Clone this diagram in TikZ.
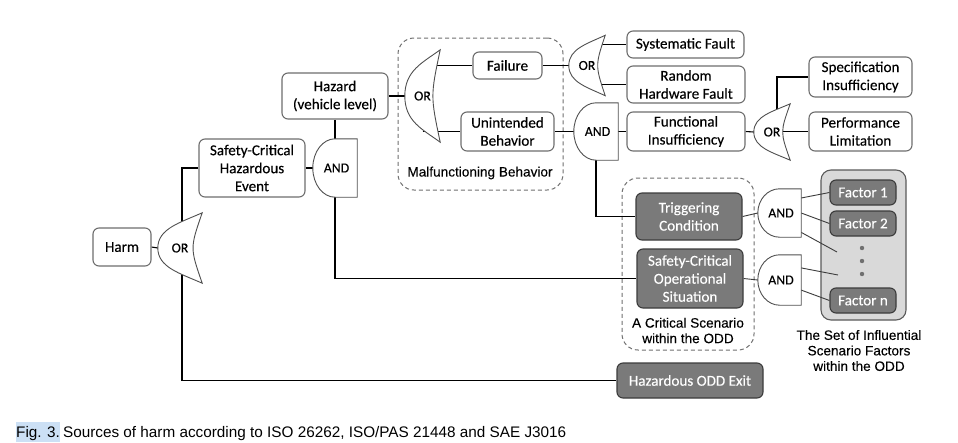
\documentclass[tikz,border=0pt]{standalone}
\usepackage{fontspec}
\setmainfont{Carlito}[FakeBold=0.25]
\newfontfamily\arialf{Liberation Sans}[FakeBold=0.15]
\newfontfamily\capf{Liberation Sans}
\usetikzlibrary{calc}
\pgfdeclarelayer{bg}
\pgfdeclarelayer{mid}
\pgfsetlayers{bg,mid,main}
\definecolor{bordergray}{HTML}{6E6E6E}
\definecolor{gateborder}{HTML}{505050}
\definecolor{darkfill}{HTML}{7A7A7A}
\definecolor{darkborder}{HTML}{3C3C3C}
\definecolor{setfill}{HTML}{D9D9D9}
\definecolor{setborder}{HTML}{5A5A5A}
\definecolor{grpgray}{HTML}{707070}
\definecolor{hl}{HTML}{CCE0F5}
\newcommand\boxfont{\fontsize{15.1}{18}\selectfont}
\newcommand\gatefont{\fontsize{13.8}{16}\selectfont}
\newcommand\lblfont{\arialf\fontsize{13.6}{15.5}\selectfont}
\newcommand\andshape[1]{%
  \draw[gateline] (#1.north east) -- (#1.north)
    .. controls ($(#1.north)!0.5523!(#1.north west)$) and ($(#1.west)!0.5523!(#1.north west)$) .. (#1.west)
    .. controls ($(#1.west)!0.5523!(#1.south west)$) and ($(#1.south)!0.5523!(#1.south west)$) .. (#1.south)
    -- (#1.south east) -- cycle;}
\newcommand\orshape[1]{%
  \draw[gateline] (#1.west)
    .. controls ($(#1.west)!0.55!(#1.north west)$) and ($(#1.north)!0.28!(#1.center)$) .. (#1.north east)
    .. controls ($(#1.east)!0.55!(#1.center)$) .. (#1.south east)
    .. controls ($(#1.south)!0.28!(#1.center)$) and ($(#1.west)!0.55!(#1.south west)$) .. (#1.west) -- cycle;}
\tikzset{
  sz/.style 2 args={minimum width=#1pt, minimum height=#2pt},
  wbox/.style={draw=bordergray, line width=1.1pt, rounded corners=6pt, fill=white,
    align=center, inner sep=0pt, font=\boxfont},
  dbox/.style={draw=darkborder, line width=1.1pt, rounded corners=6pt, fill=darkfill,
    text=white, align=center, inner sep=0pt, font=\boxfont},
  gatenode/.style={inner sep=0pt, font=\gatefont},
  gateline/.style={draw=gateborder, fill=white, line width=0.9pt},
  conn/.style={line width=1.1pt, draw=black},
  thinconn/.style={line width=0.9pt, draw=darkborder},
  grp/.style={draw=grpgray, dash pattern=on 4pt off 3pt, rounded corners=16pt, line width=1pt},
  lbl/.style={font=\lblfont, align=center, inner sep=0pt}
}
\begin{document}
\begin{tikzpicture}[x=1pt,y=-1pt]
\useasboundingbox (0,0) rectangle (958,442);
\begin{pgfonlayer}{bg}
  \fill[white] (0,0) rectangle (958,442);
  \node[grp, sz={165}{152}] (malfgrp) at (480.5,114) {};
  \node[grp, sz={132}{172}] (critgrp) at (688,264) {};
  \node[draw=setborder, fill=setfill, line width=1.1pt, rounded corners=10pt, sz={85}{150}] (set) at (863.5,245) {};
\end{pgfonlayer}

% boxes
\node[wbox, sz={58}{38}] (harm) at (122,247) {Harm};
\node[wbox, sz={106}{58}] (sche) at (252,168) {Safety-Critical\\Hazardous\\Event};
\node[wbox, sz={106}{46}] (haz) at (335,96) {Hazard\\(vehicle level)};
\node[wbox, sz={69}{27}] (fail) at (507.5,65.5) {Failure};
\node[wbox, sz={93}{39}] (unint) at (507.5,131.5) {Unintended\\Behavior};
\node[wbox, sz={117}{27}] (sysf) at (685.5,44.5) {Systematic Fault};
\node[wbox, sz={118}{37}] (rhf) at (686,84.5) {Random\\Hardware Fault};
\node[wbox, sz={118}{39}] (funci) at (686,131.5) {Functional\\Insufficiency};
\node[wbox, sz={103}{40}] (spec) at (860.5,77) {Specification\\Insufficiency};
\node[wbox, sz={103}{39}] (perf) at (860.5,131.5) {Performance\\Limitation};

\node[dbox, sz={106}{47}] (trig) at (689,216.5) {Triggering\\Condition};
\node[dbox, sz={106}{59}] (scos) at (690,278.5) {Safety-Critical\\Operational\\Situation};
\node[dbox, sz={146}{35}] (hodd) at (690,380.5) {Hazardous ODD Exit};
\node[dbox, sz={66}{25}] (f1) at (863,192.5) {Factor 1};
\node[dbox, sz={66}{25}] (f2) at (863,223.5) {Factor 2};
\node[dbox, sz={66}{25}] (fn) at (863,300.5) {Factor n};

% gates
\node[gatenode, sz={44}{70}] (or1) at (180,248) {OR};
\node[gatenode, sz={44}{58}] (and1) at (335,168) {\hspace{3pt}AND};
\node[gatenode, sz={35}{92}] (or2) at (422.5,96) {OR};
\node[gatenode, sz={36}{60}] (or3) at (587,65.5) {OR};
\node[gatenode, sz={44}{57}] (and2) at (596,131.5) {\hspace{3pt}AND};
\node[gatenode, sz={36}{56}] (or4) at (772,132) {OR};
\node[gatenode, sz={43}{48}] (and3) at (779.5,213) {\hspace{3pt}AND};
\node[gatenode, sz={43}{50}] (and4) at (779.5,280) {\hspace{3pt}AND};

\begin{pgfonlayer}{mid}
  \orshape{or1}
  \andshape{and1}
  \orshape{or2}
  \orshape{or3}
  \andshape{and2}
  \orshape{or4}
  \andshape{and3}
  \andshape{and4}
\end{pgfonlayer}

% dots and free ends
\fill[grpgray] (862,248) circle (2.2pt) (862,261) circle (2.2pt) (862,274) circle (2.2pt);
\coordinate (e1) at (837,252);
\coordinate (e2) at (838,275);

% labels
\node[lbl] (malflbl) at (480,173) {Malfunctioning Behavior};
\node[lbl] (critlbl) at (688,330.5) {A Critical Scenario\\within the ODD};
\node[lbl] (setlbl) at (859,350.5) {The Set of Influential\\Scenario Factors\\within the ODD};

% caption
\node[anchor=base west, inner sep=0pt, font=\capf\fontsize{15.3}{18}\selectfont] (cap) at (16,437)
  {\setlength{\fboxsep}{0pt}\colorbox{hl}{\rule[-4.5pt]{0pt}{19.5pt}Fig.\kern-0.3pt{} 3.}\kern-1pt{} Sources of harm according to ISO 26262, ISO/PAS 21448 and SAE J3016};

% connectors
\begin{pgfonlayer}{bg}
  \draw[conn] (harm.east) -- (or1.west);
  \draw[conn] ($(or1.center)+(2,0)$) |- (sche.west);
  \draw[conn] ($(or1.center)+(2,0)$) |- (hodd.west);
  \draw[conn] (sche.east) -- (and1.west);
  \draw[conn] (haz.south) -- (and1.north);
  \draw[conn] (and1.south) |- (scos.west);
  \draw[conn] (haz.east) -- (or2.west);
  \draw[conn] (or2.center |- fail.west) -- (fail.west);
  \draw[conn] (or2.center |- unint.west) -- (unint.west);
  \draw[conn] (fail.east) -- (or3.west);
  \draw[conn] (or3.center |- sysf.west) -- (sysf.west);
  \draw[conn] (or3.center |- rhf.west) -- (rhf.west);
  \draw[conn] (unint.east) -- (and2.west);
  \draw[conn] (and2.east) -- (funci.west);
  \draw[conn] (and2.south) |- (trig.west);
  \draw[conn] (funci.east) -- (or4.west);
  \draw[conn] ($(or4.center)+(5,0)$) |- (spec.west);
  \draw[conn] (or4.center |- perf.west) -- (perf.west);
  \draw[thinconn] (trig.east) -- (and3.west);
  \draw[thinconn] (scos.east) -- (and4.west);
  \draw[thinconn] ($(and3.north east)!0.19!(and3.south east)$) -- (f1.west);
  \draw[thinconn] (and3.east) -- (f2.west);
  \draw[thinconn] ($(and3.north east)!0.9!(and3.south east)$) -- (e1);
  \draw[thinconn] ($(and4.north east)!0.26!(and4.south east)$) -- (e2);
  \draw[thinconn] ($(and4.north east)!0.7!(and4.south east)$) -- (fn.west);
\end{pgfonlayer}
\end{tikzpicture}
\end{document}
